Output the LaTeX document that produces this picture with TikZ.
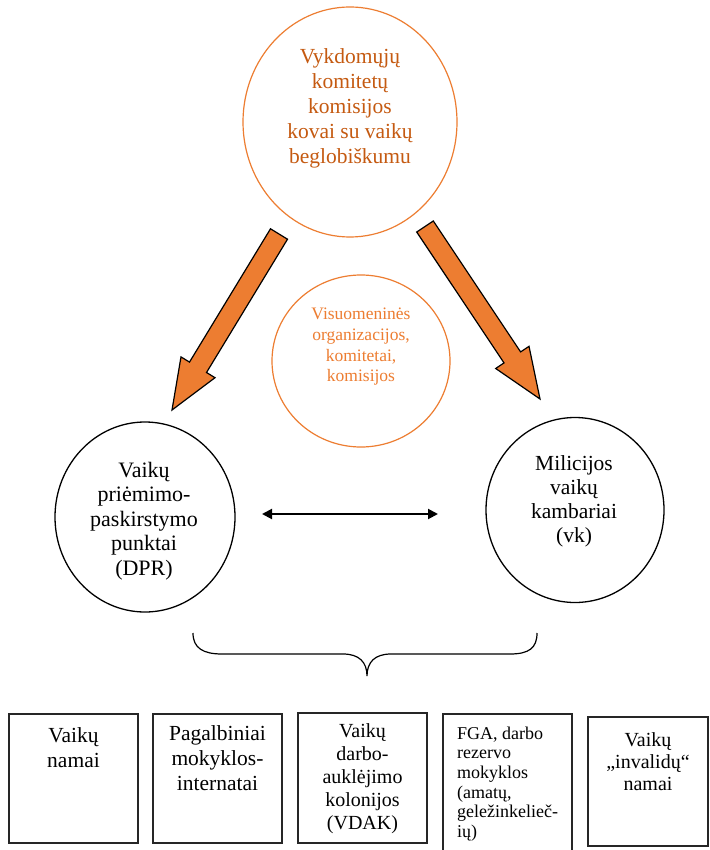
\documentclass[tikz,border=0pt]{standalone}
\usepackage{fontspec}
\setmainfont{Liberation Serif}
\usetikzlibrary{arrows.meta,shapes.geometric}
\definecolor{orng}{HTML}{ED7D31}
\definecolor{dorng}{HTML}{C55A11}
\begin{document}
\begin{tikzpicture}[x=1pt,y=-1pt,
  ocirc/.style={draw=orng, line width=1.2pt, ellipse, inner sep=0pt},
  bell/.style={draw=black, line width=1.3pt, ellipse, inner sep=0pt},
  boxnode/.style={draw=black!85, line width=1.3pt, rectangle, inner sep=0pt},
  txt/.style={align=center, inner sep=0pt, font=\fontsize{21.5}{25}\selectfont},
  bigarrow/.style={fill=orng, draw=black, line width=1.2pt, line join=miter},
  dblarrow/.style={line width=2pt, {Triangle[length=10pt,width=10pt]}-{Triangle[length=10pt,width=10pt]}},
  bracestyle/.style={draw=black, line width=1.2pt}
  ]
\path[use as bounding box] (0,0) rectangle (709,850);
\fill[white] (0,0) rectangle (709,850);

% top circle
\node[ocirc, minimum width=214pt, minimum height=230pt] (top) at (350,122) {};
\node[txt, text=dorng] (toptxt) at (350,108) {Vykdomųjų\\komitetų\\komisijos\\kovai su vaikų\\beglobiškumu};

% middle circle
\node[ocirc, minimum width=178pt, minimum height=172pt] (mid) at (361,361) {};
\node[txt, text=orng, font=\fontsize{17.5}{20.7}\selectfont] (midtxt) at (361,347) {Visuomeninės\\organizacijos,\\komitetai,\\komisijos};

% block arrows
\draw[bigarrow] (270.5,228.8) -- (287.5,239.2) -- (206.5,372.5) -- (215,377.7) -- (172,410) -- (181,356.9) -- (189.5,362.1) -- cycle;
\draw[bigarrow] (433.3,221) -- (520.6,351.9) -- (529,346.3) -- (540,399) -- (495.7,368.5) -- (504,362.9) -- (416.7,232) -- cycle;

% ellipses
\node[bell, minimum width=180pt, minimum height=190pt] (dpr) at (145,517) {};
\node[txt, font=\fontsize{22}{24.5}\selectfont] (dprtxt) at (144,521) {Vaikų\\priėmimo-\\paskirstymo\\punktai\\(DPR)};
\node[bell, minimum width=178pt, minimum height=185pt] (vk) at (575,510) {};
\node[txt, font=\fontsize{21.5}{24}\selectfont] (vktxt) at (574,501) {Milicijos\\vaikų\\kambariai\\(vk)};

% double arrow
\coordinate (da1) at (262,514);
\coordinate (da2) at (438,514);
\draw[dblarrow] (da1) -- (da2);

% brace
\draw[bracestyle] (193,633) .. controls (193,648) and (203,654) .. (222,654) -- (343,654) .. controls (359,654) and (367,662) .. (367,676) .. controls (367,662) and (375,654) .. (391,654) -- (510,654) .. controls (529,654) and (537,648) .. (537,633);

% boxes
\node[boxnode, minimum width=129pt, minimum height=129pt] (b1) at (73.5,778.5) {};
\node[boxnode, minimum width=129pt, minimum height=129pt] (b2) at (217.5,778.5) {};
\node[boxnode, minimum width=129pt, minimum height=130pt] (b3) at (362.5,778) {};
\node[boxnode, minimum width=129pt, minimum height=139pt] (b4) at (507.5,783.5) {};
\node[boxnode, minimum width=120pt, minimum height=129pt] (b5) at (648,781.5) {};

\node[txt] (t1) at (73.5,747.5) {Vaikų\\namai};
\node[txt] (t2) at (217.5,758) {Pagalbiniai\\mokyklos-\\internatai};
\node[txt, font=\fontsize{20}{23}\selectfont] (t3) at (362.5,779) {Vaikų\\darbo-\\auklėjimo\\kolonijos\\(VDAK)};
\node[txt, align=left, anchor=west, font=\fontsize{18}{19.7}\selectfont] (t4) at (457,784) {FGA, darbo\\rezervo\\mokyklos\\(amatų,\\geležinkelieč-\\ių)};
\node[txt, font=\fontsize{20}{22}\selectfont] (t5) at (648,761.5) {Vaikų\\„invalidų“\\namai};
\end{tikzpicture}
\end{document}
